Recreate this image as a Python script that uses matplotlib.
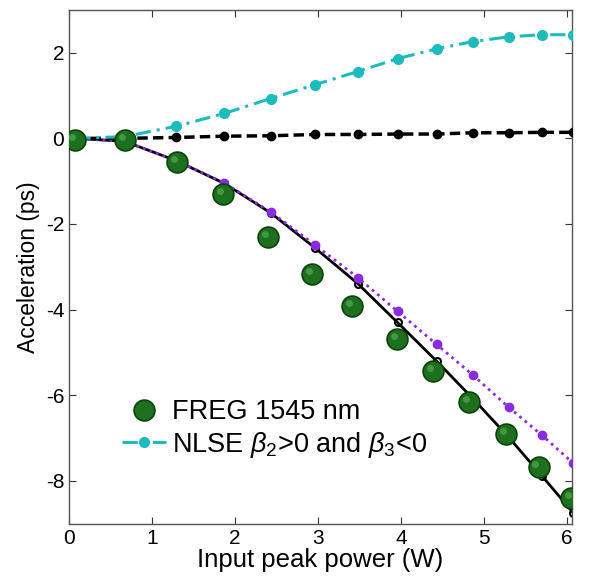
import numpy as np
import matplotlib
matplotlib.use('Agg')
import matplotlib.pyplot as plt
from matplotlib.transforms import offset_copy

plt.rcParams['font.family'] = ['Liberation Sans', 'DejaVu Sans']
plt.rcParams['mathtext.fontset'] = 'custom'
plt.rcParams['mathtext.it'] = 'Liberation Sans:italic'
plt.rcParams['mathtext.rm'] = 'Liberation Sans'
plt.rcParams['axes.unicode_minus'] = False

# measured points (FREG 1545 nm)
p_exp = [0.07, 0.67, 1.30, 1.86, 2.40, 2.93, 3.41, 3.95, 4.39, 4.82, 5.27, 5.66, 6.05]
acc_exp = [-0.03, -0.03, -0.56, -1.31, -2.30, -3.17, -3.92, -4.69, -5.43, -6.15, -6.90, -7.67, -8.39]

# simulation power grid
p_sim = [0.07, 0.67, 1.29, 1.87, 2.43, 2.96, 3.48, 3.96, 4.43, 4.87, 5.30, 5.70, 6.08]
# NLSE b2>0, b3<0
acc_nlse = [0.0, 0.04, 0.28, 0.58, 0.93, 1.25, 1.56, 1.86, 2.09, 2.26, 2.37, 2.42, 2.42]
# black dashed
acc_dash = [0.0, 0.0, 0.02, 0.05, 0.06, 0.09, 0.09, 0.10, 0.10, 0.13, 0.13, 0.14, 0.14]
# purple dotted
acc_dot = [0.0, -0.07, -0.52, -1.04, -1.72, -2.48, -3.25, -4.04, -4.81, -5.53, -6.28, -6.93, -7.59]
# black solid
acc_solid = [0.0, -0.07, -0.52, -1.05, -1.74, -2.55, -3.39, -4.30, -5.20, -6.08, -6.98, -7.88, -8.75]

fig = plt.figure(figsize=(5.9, 5.8), dpi=100)
ax = fig.add_axes([0.117, 0.097, 0.852, 0.886])

ax.plot(p_sim, acc_solid, '-', color='black', lw=2, marker='o', ms=5,
        mfc='none', mec='black', mew=1.5, zorder=2)
ax.plot(p_sim, acc_dot, linestyle=(0, (1, 1.5)), color='#8a2be2', lw=2,
        marker='o', ms=6, mfc='#8a2be2', mec='#8a2be2', zorder=3)
ax.plot(p_sim, acc_dash, linestyle=(0, (3, 1.5)), color='black', lw=2.5,
        marker='o', ms=6, zorder=3)
nl, = ax.plot(p_sim, acc_nlse, linestyle=(0, (5, 2, 1, 2)), color='#1cbcbc', lw=2.2,
              marker='o', ms=7, mfc='#1cbcbc', mec='#1cbcbc', zorder=3)
fr, = ax.plot(p_exp, acc_exp, 'o', ms=15, mfc='#1d701d', mec='#0c420c', mew=1.2, zorder=5)
# little highlight to fake the shaded spheres
hl = offset_copy(ax.transData, fig=fig, x=-2.2, y=2.2, units='points')
ax.plot(p_exp, acc_exp, 'o', ms=5, mfc='#4f9f4f', mec='none', alpha=0.8,
        transform=hl, zorder=6)

ax.set_xlim(0, 6.06)
ax.set_ylim(-9, 3)
ax.set_xticks([0, 1, 2, 3, 4, 5, 6])
ax.set_yticks([-8, -6, -4, -2, 0, 2])
ax.tick_params(direction='in', top=True, right=True, length=5, width=0.8,
               labelsize=15, colors='#333333', labelcolor='black')
for s in ax.spines.values():
    s.set_color('#555555')
    s.set_linewidth(1)

ax.set_xlabel('Input peak power (W)', fontsize=18.5, labelpad=0)
ax.set_ylabel('Acceleration (ps)', fontsize=16.5, labelpad=4)

ax.legend([fr, nl], ['FREG 1545 nm', r'NLSE $\beta_2$>0 and $\beta_3$<0'],
          loc='lower left', bbox_to_anchor=(0.105, 0.125), frameon=False,
          fontsize=19.5, handlelength=1.65, handletextpad=0.22, labelspacing=0.15,
          borderaxespad=0, borderpad=0)

fig.savefig('out.png', dpi=100)
